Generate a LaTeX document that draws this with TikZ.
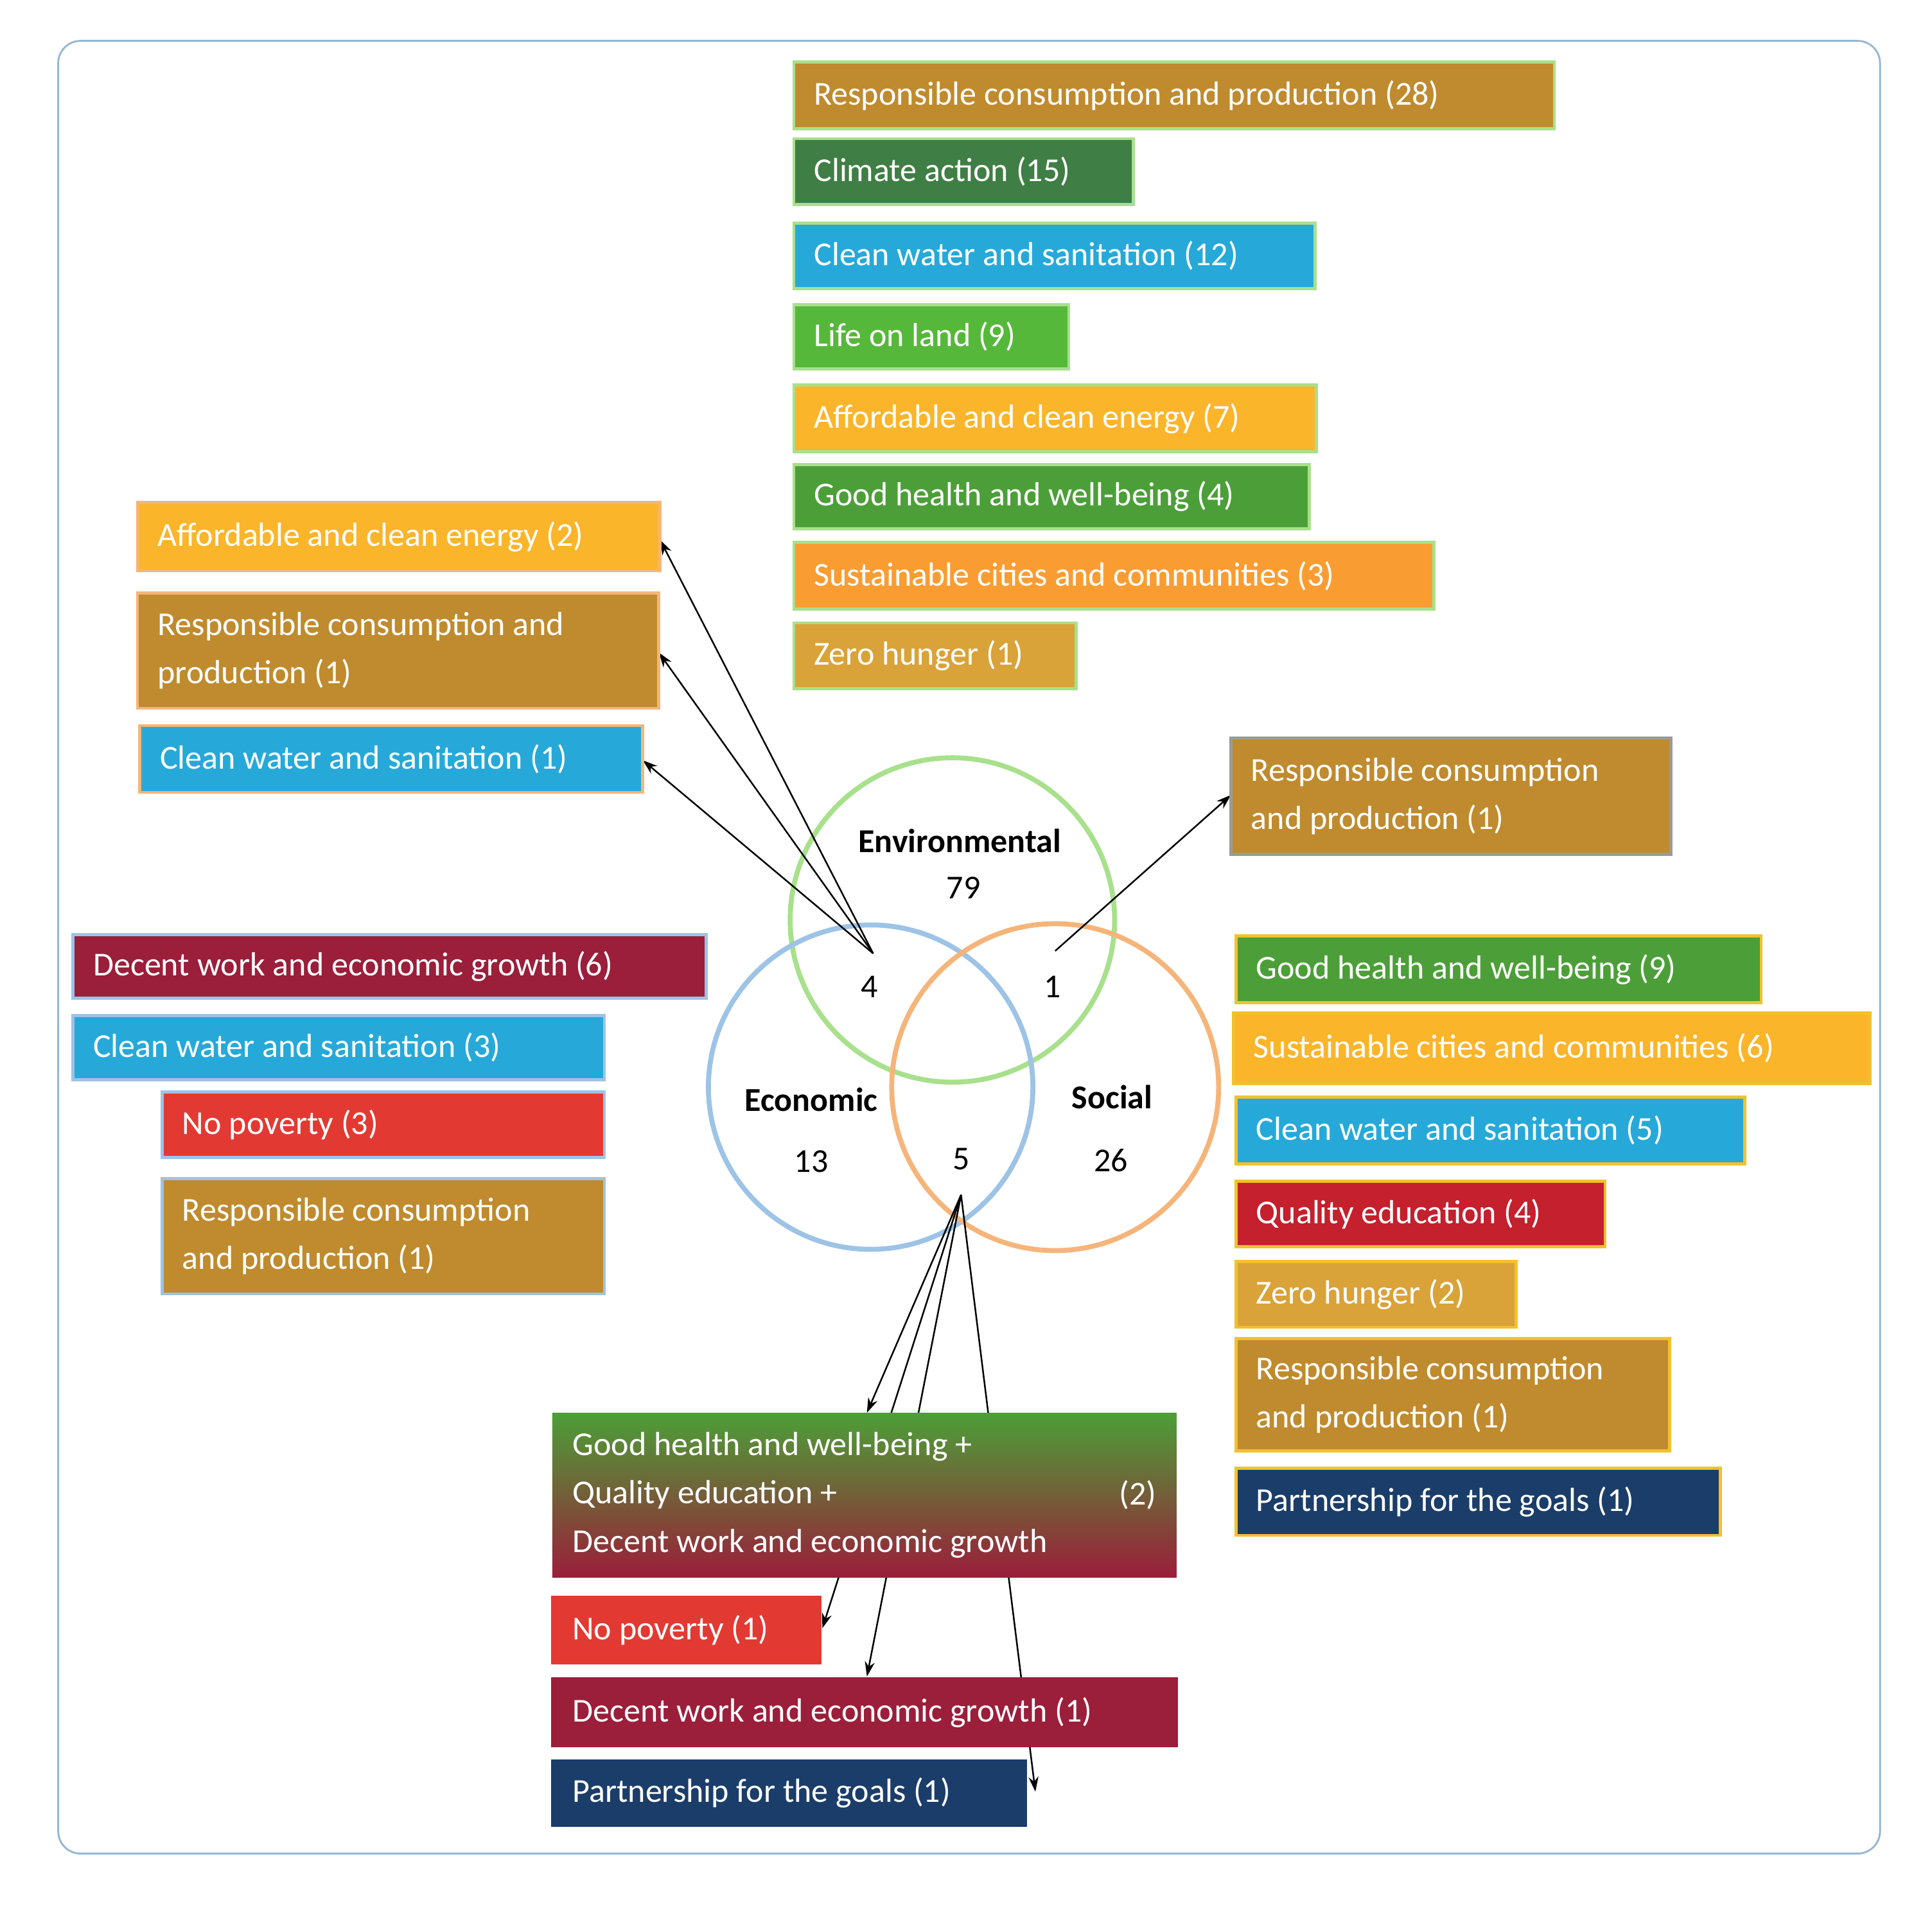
\documentclass[tikz,border=0pt]{standalone}
\usepackage{fontspec}
\setmainfont{Carlito}
\usetikzlibrary{arrows.meta}
\definecolor{cBrown}{HTML}{BF8B2E}
\definecolor{cDkGreen}{HTML}{3F7E44}
\definecolor{cBlue}{HTML}{26A9D8}
\definecolor{cLand}{HTML}{56B83A}
\definecolor{cYellow}{HTML}{FBB52B}
\definecolor{cHealth}{HTML}{4C9F38}
\definecolor{cOrange}{HTML}{F99D33}
\definecolor{cMustard}{HTML}{D9A33A}
\definecolor{cBurg}{HTML}{9B1E3A}
\definecolor{cRed}{HTML}{E23A33}
\definecolor{cQual}{HTML}{C5202D}
\definecolor{cNavy}{HTML}{1B3D6A}
\definecolor{bGreen}{HTML}{A8E08C}
\definecolor{bOrange}{HTML}{F5B57A}
\definecolor{bBlue}{HTML}{9DC3E6}
\definecolor{bYellow}{HTML}{F2C12E}
\definecolor{bGrey}{HTML}{9A9A9A}
\tikzset{
 box/.style={anchor=north west,text=white,inner sep=0pt,line width=2.5pt,align=left,
   font=\fontsize{27}{39}\selectfont},
 arr/.style={-{Stealth[length=12pt,width=8pt]},line width=1.3pt},
 venn/.style={line width=4pt},
 lab/.style={font=\fontsize{27}{32}\selectfont}
}
\newcommand{\bx}[8]{% name,x1,y1,x2,y2,fill,draw,text
 \path[draw=#7,fill=#6,line width=2.5pt] (#2,#3) rectangle (#4,#5);
 \node[box,anchor=west] (#1) at (#2+15,{(#3+#5)/2}) {#8};
}
\begin{document}
\begin{tikzpicture}[x=1pt,y=-1pt]
\useasboundingbox (0,0) rectangle (1560,1543);
\fill[white] (0,0) rectangle (1560,1543);
\draw[bBlue!80!gray,line width=1.5pt,rounded corners=18pt] (47,33) rectangle (1518,1497);
% venn
\draw[venn,bGreen] (769,743) circle (131);
\draw[venn,bBlue] (703,878) circle (131);
\draw[venn,bOrange] (852,878) circle (132);
\node[lab,font=\fontsize{27}{32}\selectfont\bfseries] (env) at (775,679) {Environmental};
\node[lab] (n79) at (778,717) {79};
\node[lab] (n4) at (702,797) {4};
\node[lab] (n1) at (850,797) {1};
\node[lab,font=\fontsize{27}{32}\selectfont\bfseries] (eco) at (655,888) {Economic};
\node[lab] (n13) at (655,938) {13};
\node[lab,font=\fontsize{27}{32}\selectfont\bfseries] (soc) at (898,886) {Social};
\node[lab] (n26) at (897,937) {26};
\node[lab] (n5) at (776,936) {5};
\coordinate (s4) at (705,770);
\coordinate (s1) at (852,768);
\coordinate (s5) at (776,965);
\coordinate (t1) at (533,436);
\coordinate (t2) at (532,527);
\coordinate (t3) at (519,614);
\coordinate (t4) at (994,642);
\coordinate (t5) at (700,1141);
\coordinate (t6) at (664,1315);
\coordinate (t7) at (700,1354);
\coordinate (t8) at (836,1447);
\draw[arr] (s4) -- (t1);
\draw[arr] (s4) -- (t2);
\draw[arr] (s4) -- (t3);
\draw[arr] (s1) -- (t4);
\draw[arr] (s5) -- (t5);
\draw[arr] (s5) -- (t6);
\draw[arr] (s5) -- (t7);
\draw[arr] (s5) -- (t8);
% top
\bx{a1}{641}{50}{1255}{104}{cBrown}{bGreen}{Responsible consumption and production (28)}
\bx{a2}{641}{112}{915}{165}{cDkGreen}{bGreen}{Climate action (15)}
\bx{a3}{641}{180}{1062}{233}{cBlue}{bGreen}{Clean water and sanitation (12)}
\bx{a4}{641}{246}{863}{298}{cLand}{bGreen}{Life on land (9)}
\bx{a5}{641}{311}{1063}{365}{cYellow}{bGreen}{Affordable and clean energy (7)}
\bx{a6}{641}{375}{1057}{427}{cHealth}{bGreen}{Good health and well-being (4)}
\bx{a7}{641}{438}{1158}{492}{cOrange}{bGreen}{Sustainable cities and communities (3)}
\bx{a8}{641}{503}{869}{556}{cMustard}{bGreen}{Zero hunger (1)}
% left top
\bx{b1}{111}{406}{533}{461}{cYellow}{bOrange}{Affordable and clean energy (2)}
\bx{b2}{111}{479}{532}{572}{cBrown}{bOrange}{Responsible consumption and\\production (1)}
\bx{b3}{113}{586}{519}{640}{cBlue}{bOrange}{Clean water and sanitation (1)}
% right top
\bx{c1}{994}{596}{1349}{690}{cBrown}{bGrey}{Responsible consumption\\and production (1)}
% left
\bx{d1}{59}{755}{570}{806}{cBurg}{bBlue}{Decent work and economic growth (6)}
\bx{d2}{59}{820}{488}{872}{cBlue}{bBlue}{Clean water and sanitation (3)}
\bx{d3}{131}{882}{488}{935}{cRed}{bBlue}{No poverty (3)}
\bx{d4}{131}{952}{488}{1045}{cBrown}{bBlue}{Responsible consumption\\and production (1)}
% right
\bx{e1}{998}{756}{1422}{810}{cHealth}{bYellow}{Good health and well-being (9)}
\bx{e2}{996}{818}{1510}{875}{cYellow}{bYellow}{Sustainable cities and communities (6)}
\bx{e3}{998}{886}{1409}{940}{cBlue}{bYellow}{Clean water and sanitation (5)}
\bx{e4}{998}{954}{1296}{1007}{cQual}{bYellow}{Quality education (4)}
\bx{e5}{998}{1019}{1224}{1072}{cMustard}{bYellow}{Zero hunger (2)}
\bx{e6}{998}{1081}{1348}{1172}{cBrown}{bYellow}{Responsible consumption\\and production (1)}
\bx{e7}{998}{1186}{1389}{1240}{cNavy}{bYellow}{Partnership for the goals (1)}
% bottom
\shade[top color=cHealth,middle color=cQual,bottom color=cBurg] (446,1141) rectangle (950,1274);
\node[box,anchor=west] (f1) at (461,1207.5) {Good health and well-being +\\Quality education +\\Decent work and economic growth};
\node[box,anchor=east] (f1n) at (935,1207.5) {(2)};
\bx{f2}{446}{1290}{662}{1343}{cRed}{cRed}{No poverty (1)}
\bx{f3}{446}{1356}{950}{1410}{cBurg}{cBurg}{Decent work and economic growth (1)}
\bx{f4}{446}{1422}{828}{1474}{cNavy}{cNavy}{Partnership for the goals (1)}
\end{tikzpicture}
\end{document}
